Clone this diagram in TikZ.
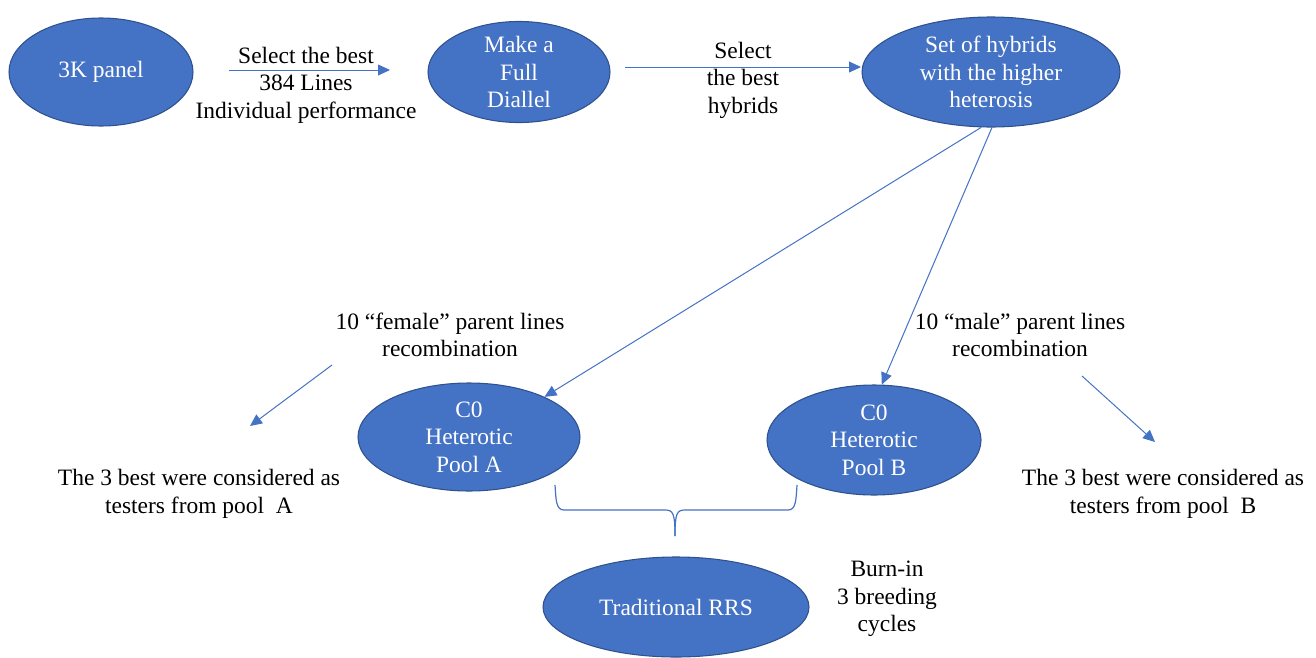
\documentclass[tikz,border=0pt]{standalone}
\usepackage{fontspec}
\setmainfont{Liberation Serif}
\usetikzlibrary{arrows.meta,shapes.geometric}
\definecolor{fillblue}{HTML}{4472C4}
\definecolor{edgeblue}{HTML}{2F528F}
\definecolor{lineblue}{HTML}{4472C4}
\tikzset{
  blob/.style={ellipse, fill=fillblue, draw=edgeblue, line width=0.8pt, text=white, align=center, inner sep=0pt, font=\fontsize{17.6}{20.6}\selectfont},
  lbl/.style={align=center, text=black, inner sep=0pt, font=\fontsize{17.6}{20.6}\selectfont},
  conn/.style={draw=lineblue, line width=0.75pt, -{Triangle[length=9pt,width=8.2pt]}},
  bracepath/.style={draw=lineblue, line width=0.9pt}
}
\begin{document}
\begin{tikzpicture}[x=0.75pt,y=-0.75pt]
\useasboundingbox (0,0) rectangle (1316,657);
% ellipses
\node[blob, minimum width=138, minimum height=81] (p3k) at (101,72) {3K panel};
\node[blob, minimum width=136.5, minimum height=75] (diallel) at (519,72) {Make a\\Full\\Diallel};
\node[blob, minimum width=193.5, minimum height=82.5] (hyb) at (991,72) {Set of hybrids\\with the higher\\heterosis};
\node[blob, minimum width=166.5, minimum height=81] (poolA) at (469,437) {C0\\Heterotic\\Pool A};
\node[blob, minimum width=160.5, minimum height=82.5] (poolB) at (874,440) {C0\\Heterotic\\Pool B};
\node[blob, minimum width=199.5, minimum height=75] (rrs) at (676,607) {Traditional RRS};
% labels
\node[lbl] (l1) at (306,85) {Select the best\\384 Lines\\Individual performance};
\node[lbl] (l2) at (743,80) {Select\\the best\\hybrids};
\node[lbl] (l3) at (450,335) {10 “female” parent lines\\recombination};
\node[lbl] (l4) at (1020,335) {10 “male” parent lines\\recombination};
\node[lbl] (l5) at (199,494) {The 3 best were considered as\\testers from pool\ \ A};
\node[lbl] (l6) at (1163,494) {The 3 best were considered as\\testers from pool\ \ B};
\node[lbl] (l7) at (887,599) {Burn-in\\3 breeding\\cycles};
% connector end points
\coordinate (a1s) at (229,70);
\coordinate (a1e) at (390,70);
\coordinate (a2s) at (625,67);
\coordinate (a2e) at (861,67);
\coordinate (fAs) at (332,365);
\coordinate (fAe) at (250,426);
\coordinate (fBs) at (1082,376);
\coordinate (fBe) at (1155,442);
% connectors
\draw[conn] (a1s) -- (a1e);
\draw[conn] (a2s) -- (a2e);
\draw[conn] (hyb.260) -- (poolA.28);
\draw[conn] (hyb.271) -- (poolB.82);
\draw[conn] (fAs) -- (fAe);
\draw[conn] (fBs) -- (fBe);
% brace
\coordinate (bL) at (555,485);
\coordinate (bR) at (797,485);
\coordinate (bT) at (675,536);
\draw[bracepath] (bL) .. controls (556,500) and (556,510) .. (564,510) -- (665,510)
  .. controls (673,510) and (675,513) .. (bT);
\draw[bracepath] (bR) .. controls (796,500) and (796,510) .. (788,510) -- (685,510)
  .. controls (677,510) and (675,513) .. (bT);
\end{tikzpicture}
\end{document}
